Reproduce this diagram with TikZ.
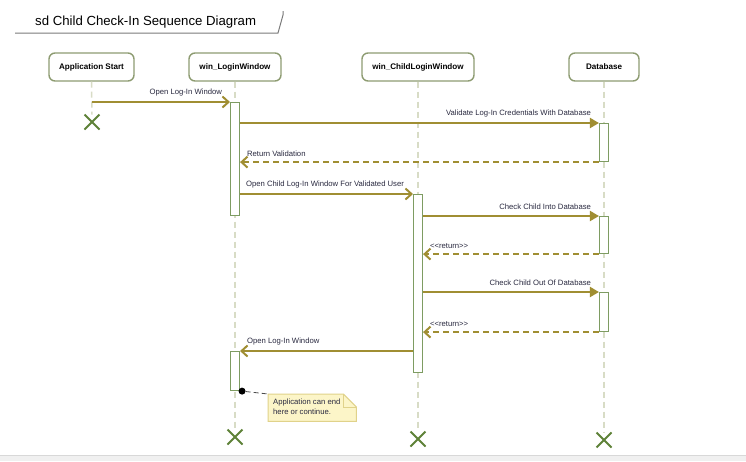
\documentclass[tikz,border=0pt]{standalone}
\usepackage{fontspec}
\setmainfont{Liberation Sans}
\usetikzlibrary{arrows.meta,shapes.misc,calc}

\definecolor{msgcol}{HTML}{A08E32}
\definecolor{lifecol}{HTML}{D8DCC6}
\definecolor{headbd}{HTML}{8E9C72}
\definecolor{actbd}{HTML}{7E9C62}
\definecolor{xgreen}{HTML}{5E8238}
\definecolor{notefill}{HTML}{FCF5C8}
\definecolor{notebd}{HTML}{E0D28A}
\definecolor{txtcol}{HTML}{2A2A40}
\definecolor{framecol}{HTML}{7A7A7A}
\definecolor{stripcol}{HTML}{F0F0F0}
\definecolor{stripbd}{HTML}{D8D8D8}

\tikzset{
  head/.style={draw=headbd, line width=1.4pt, rounded corners=6pt, fill=white,
    minimum height=28pt, inner sep=0pt, font=\fontsize{8.1}{9.5}\selectfont\bfseries, text=black},
  lifeline/.style={draw=lifecol, line width=1.5pt, dash pattern=on 6pt off 4pt},
  act/.style={draw=actbd, line width=1.1pt, fill=white, minimum width=9pt, inner sep=0pt, anchor=north},
  destroy/.style={cross out, draw=xgreen, line width=2pt, minimum size=13pt, inner sep=0pt},
  call/.style={draw=msgcol, line width=2pt, -{Straight Barb[length=6pt,width=11pt,line width=2pt]}},
  callf/.style={draw=msgcol, line width=2pt, -{Triangle[length=9pt,width=10pt]}},
  reply/.style={draw=msgcol, line width=2pt, dash pattern=on 6pt off 4pt,
    -{Straight Barb[length=6pt,width=11pt,line width=2pt]}},
  lbl/.style={font=\fontsize{7.7}{10}\selectfont, text=txtcol, inner sep=0pt},
  lblR/.style={lbl, pos=1, anchor=south east, xshift=-7pt, yshift=5pt},
  lblL/.style={lbl, pos=1, anchor=south west, xshift=6pt, yshift=5pt},
}

\begin{document}
\begin{tikzpicture}[x=1pt, y=-1pt]
\useasboundingbox (0,0) rectangle (746,461);
\fill[white] (0,0) rectangle (746,461);

% diagram frame title
\node[anchor=west, inner sep=0pt, font=\fontsize{13.2}{15}\selectfont, text=black] (title) at (35,22)
  {sd Child Check-In Sequence Diagram};
\draw[framecol, line width=1pt] (15,33) -- (278,33) -- (283,15) -- (283,11);

% lifeline heads
\node[head, minimum width=85pt] (app) at (91.5,67) {Application Start};
\node[head, minimum width=92pt] (login) at (235,67) {win\_LoginWindow};
\node[head, minimum width=112pt] (child) at (418,67) {win\_ChildLoginWindow};
\node[head, minimum width=70pt] (db) at (604,67) {Database};

% destruction marks
\node[destroy] (xapp) at (92,122) {};
\node[destroy] (xlogin) at (235,437) {};
\node[destroy] (xchild) at (418,439) {};
\node[destroy] (xdb) at (604,440) {};

% lifelines
\draw[lifeline] (app.south) -- (xapp.north);
\draw[lifeline] (login.south) -- (xlogin.north);
\draw[lifeline] (child.south) -- (xchild.north);
\draw[lifeline] (db.south) -- (xdb.north);

% activation bars
\node[act, minimum height=113pt] (a1) at (235,102) {};
\node[act, minimum height=38pt] (d1) at (604,123) {};
\node[act, minimum height=178pt] (c1) at (418,194) {};
\node[act, minimum height=37pt] (d2) at (604,216) {};
\node[act, minimum height=39pt] (d3) at (604,292) {};
\node[act, minimum height=39pt] (a2) at (235,351) {};

% messages
\draw[call] (app.south |- a1.north) -- (a1.north west)
  node[lblR] {Open Log-In Window};
\draw[callf] (a1.east |- d1.north) -- (d1.north west)
  node[lblR] {Validate Log-In Credentials With Database};
\draw[reply] (d1.south west) -- (a1.east |- d1.south)
  node[lblL] {Return Validation};
\draw[call] (a1.east |- c1.north) -- (c1.north west)
  node[lblR, xshift=-1pt] {Open Child Log-In Window For Validated User};
\draw[callf] (c1.east |- d2.north) -- (d2.north west)
  node[lblR] {Check Child Into Database};
\draw[reply] (d2.south west) -- (c1.east |- d2.south)
  node[lblL] {<{}<return>{}>};
\draw[callf] (c1.east |- d3.north) -- (d3.north west)
  node[lblR] {Check Child Out Of Database};
\draw[reply] (d3.south west) -- (c1.east |- d3.south)
  node[lblL] {<{}<return>{}>};
\draw[call] (c1.west |- a2.north) -- (a2.north east)
  node[lblL] {Open Log-In Window};

% note attached to the end of the login activation
\node[anchor=north west, inner sep=0pt, minimum width=88pt, minimum height=27pt] (note) at (268,394) {};
\filldraw[fill=notefill, draw=notebd, line width=1pt]
  (note.north west) -- ($(note.north east)+(-13,0)$) -- ($(note.north east)+(0,13)$)
  -- (note.south east) -- (note.south west) -- cycle;
\draw[notebd, line width=0.8pt] ($(note.north east)+(-13,0)$) -- ($(note.north east)+(-13,13)$) -- ($(note.north east)+(0,13)$);
\node[lbl, anchor=north west, align=left, text=txtcol] (notetext) at ($(note.north west)+(5,5)$)
  {Application can end\\here or continue.};
\node[circle, fill=black, inner sep=0pt, minimum size=7pt] (dot) at ($(a2.south east)+(2,0)$) {};
\draw[black!70, line width=0.8pt, dash pattern=on 5pt off 3pt] (dot) -- (note.north west);

% bottom strip
\fill[stripcol] (0,455) rectangle (746,461);
\draw[stripbd, line width=1pt] (0,455) -- (746,455);
\end{tikzpicture}
\end{document}
